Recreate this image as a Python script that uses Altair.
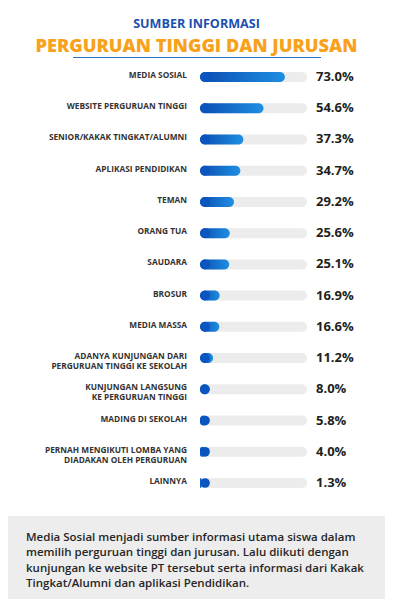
import altair as alt
import pandas as pd

categories = [
    "MEDIA SOSIAL",
    "WEBSITE PERGURUAN TINGGI",
    "SENIOR/KAKAK TINGKAT/ALUMNI",
    "APLIKASI PENDIDIKAN",
    "TEMAN",
    "ORANG TUA",
    "SAUDARA",
    "BROSUR",
    "MEDIA MASSA",
    "ADANYA KUNJUNGAN DARI\nPERGURUAN TINGGI KE SEKOLAH",
    "KUNJUNGAN LANGSUNG\nKE PERGURUAN TINGGI",
    "MADING DI SEKOLAH",
    "PERNAH MENGIKUTI LOMBA YANG\nDIADAKAN OLEH PERGURUAN",
    "LAINNYA",
]
values = [73.0, 54.6, 37.3, 34.7, 29.2, 25.6, 25.1, 16.9, 16.6, 11.2, 8.0, 5.8, 4.0, 1.3]
track_max = 92

title_top = "SUMBER INFORMASI"
title_main = "PERGURUAN TINGGI DAN JURUSAN"
note = ("Media Sosial menjadi sumber informasi utama siswa dalam\n"
        "memilih perguruan tinggi dan jurusan. Lalu diikuti dengan\n"
        "kunjungan ke website PT tersebut serta informasi dari Kakak\n"
        "Tingkat/Alumni dan aplikasi Pendidikan.")

df = pd.DataFrame({
    "cat": categories,
    "value": values,
    "zero": [0] * len(values),
    "track": [track_max] * len(values),
    "pct": [f"{v:.1f}%" for v in values],
})

W, H = 377, 591
FONT = "Open Sans"

xs = alt.Scale(domain=[0, track_max], range=[192, 299])
ys = alt.Scale(type="point", domain=categories, range=[69, 475], padding=0)
Y = alt.Y("cat:N", scale=ys, axis=None, sort=categories)

base = alt.Chart(df)

track = base.mark_bar(size=10, cornerRadius=5, color="#ececec").encode(
    x=alt.X("zero:Q", scale=xs, axis=None), x2="track:Q", y=Y)

dot = base.mark_circle(size=95, opacity=1, color="#0a55c0", xOffset=5).encode(
    x=alt.X("zero:Q", scale=xs, axis=None), y=Y)

grad = alt.Gradient(
    gradient="linear",
    stops=[alt.GradientStop(color="#0a4db2", offset=0),
           alt.GradientStop(color="#1e8fe2", offset=1)],
    x1=0, x2=1, y1=0, y2=0)

bars = base.mark_bar(size=10, cornerRadius=5, color=grad).encode(
    x=alt.X("zero:Q", scale=xs, axis=None), x2="value:Q", y=Y)

labels = base.mark_text(align="right", baseline="middle", font=FONT, fontWeight="bold",
                        fontSize=8.3, color="#333333", lineBreak="\n", lineHeight=10,
                        dy=-1).encode(
    x=alt.value(179), y=Y, text="cat:N")

pcts = base.mark_text(align="left", baseline="middle", font=FONT, fontWeight="bold",
                      fontSize=13, color="#231f20").encode(
    x=alt.value(308), y=Y, text="pct:N")

one = alt.Chart(pd.DataFrame({"k": [0]}))

t1 = one.mark_text(align="center", baseline="middle", font=FONT, fontWeight="bold",
                   fontSize=12.6, color="#1c4fae").encode(
    x=alt.value(188.5), y=alt.value(16), text=alt.value(title_top))
t2 = one.mark_text(align="center", baseline="middle", font=FONT, fontWeight=800,
                   fontSize=18.2, color="#f8a21c").encode(
    x=alt.value(188.5), y=alt.value(38.5), text=alt.value(title_main))
rule = one.mark_rule(color="#2c6fc9", strokeWidth=1.2).encode(
    x=alt.value(65), x2=alt.value(313), y=alt.value(49.5))

box = one.mark_rect(color="#ededed").encode(
    x=alt.value(0), x2=alt.value(W), y=alt.value(508), y2=alt.value(H))
note_txt = one.mark_text(align="left", baseline="alphabetic", font=FONT, fontWeight=600,
                         fontSize=11.5, color="#262626", lineBreak="\n", lineHeight=15.3).encode(
    x=alt.value(18), y=alt.value(533), text=alt.value(note))

chart = alt.layer(track, bars, dot, labels, pcts, t1, t2, rule, box, note_txt).properties(
    width=W, height=H, autosize=alt.AutoSizeParams(type="none"), padding=0,
    background="white"
).configure_view(stroke=None)

chart.save("out.html", embed_options={"renderer": "svg", "actions": False})
